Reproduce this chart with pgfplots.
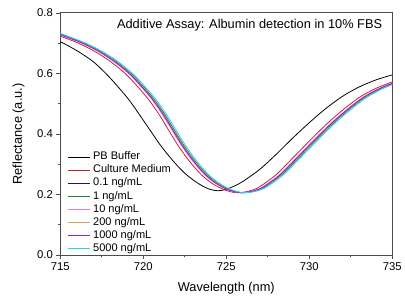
\documentclass[border=0pt]{standalone}
\usepackage{pgfplots}
\usepackage{pgfplotstable}
\pgfplotsset{compat=1.18}
\usepackage{fontspec}
\setmainfont{Liberation Sans}

\definecolor{cRed}{RGB}{200,30,40}
\definecolor{cNavy}{RGB}{20,20,140}
\definecolor{cGreen}{RGB}{30,130,40}
\definecolor{cPink}{RGB}{235,120,220}
\definecolor{cGold}{RGB}{205,165,80}
\definecolor{cPurple}{RGB}{130,30,230}
\definecolor{cCyan}{RGB}{30,215,240}

\pgfplotstableread{
x y
714.3 0.722
715 0.705
716 0.675
717 0.638
718 0.585
719 0.522
719.5 0.485
720 0.445
720.5 0.405
721 0.365
721.5 0.330
722 0.298
722.5 0.270
723 0.248
723.5 0.230
724 0.217
724.5 0.212
725 0.217
725.5 0.228
726 0.243
727 0.282
728 0.332
729 0.386
730 0.437
731 0.484
732 0.524
733 0.555
734 0.578
735 0.595
}\pb

\pgfplotstableread{
y xr xn xg xp xo xu xc
0.738 714.3 714.6 714.65 714.5 714.6 714.55 714.75
0.723 715 715.3 715.35 715.2 715.3 715.25 715.45
0.702 716 716.3 716.35 716.2 716.3 716.25 716.45
0.675 717 717.3 717.35 717.2 717.3 717.25 717.45
0.640 718 718.3 718.35 718.2 718.3 718.25 718.45
0.595 719 719.3 719.35 719.2 719.3 719.25 719.45
0.535 720 720.3 720.35 720.2 720.3 720.25 720.45
0.500 720.5 720.8 720.85 720.7 720.8 720.75 720.95
0.460 721 721.3 721.35 721.2 721.3 721.25 721.45
0.415 721.5 721.8 721.85 721.7 721.8 721.75 721.95
0.370 722 722.3 722.35 722.2 722.3 722.25 722.45
0.330 722.5 722.8 722.85 722.7 722.8 722.75 722.95
0.295 723 723.3 723.35 723.2 723.3 723.25 723.45
0.265 723.5 723.8 723.85 723.7 723.8 723.75 723.95
0.242 724 724.3 724.35 724.2 724.3 724.25 724.45
0.225 724.5 724.8 724.85 724.7 724.8 724.75 724.95
0.213 725 725.3 725.35 725.2 725.3 725.25 725.45
0.206 725.5 725.8 725.85 725.7 725.8 725.75 725.95
0.207 726 726.3 726.35 726.2 726.3 726.25 726.45
0.213 726.5 726.8 726.85 726.7 726.8 726.75 726.95
0.225 727 727.3 727.35 727.2 727.3 727.25 727.45
0.265 728 728.3 728.35 728.2 728.3 728.25 728.45
0.320 729 729.3 729.35 729.2 729.3 729.25 729.45
0.376 730 730.3 730.35 730.2 730.3 730.25 730.45
0.430 731 731.3 731.35 731.2 731.3 731.25 731.45
0.478 732 732.3 732.35 732.2 732.3 732.25 732.45
0.520 733 733.3 733.35 733.2 733.3 733.25 733.45
0.550 734 734.3 734.35 734.2 734.3 734.25 734.45
0.572 735 735.3 735.35 735.2 735.3 735.25 735.45
}\med

\begin{document}
\begin{tikzpicture}
\begin{axis}[
  scale only axis,
  width=336bp, height=245bp,
  xmin=715, xmax=735, ymin=0, ymax=0.8,
  xtick={715,720,725,730,735},
  minor xtick={717.5,722.5,727.5,732.5},
  ytick={0,0.2,0.4,0.6,0.8},
  minor ytick={0.1,0.3,0.5,0.7},
  tick align=outside,
  major tick length=4bp,
  minor tick length=2.5bp,
  xtick pos=bottom, ytick pos=left,
  axis line style={black!70, line width=0.8pt},
  every tick/.style={black!70, line width=0.6pt},
  /pgf/number format/assume math mode=true,
  yticklabel style={/pgf/number format/.cd, fixed, fixed zerofill, precision=1},
  xticklabel style={/pgf/number format/.cd, fixed, precision=0, set thousands separator={}},
  tick label style={font=\fontsize{11.5}{13}\selectfont},
  xlabel={Wavelength (nm)},
  ylabel={Reflectance (a.u.)},
  label style={font=\fontsize{13}{15}\selectfont},
  xlabel style={yshift=-5bp},
  ylabel style={yshift=6bp},
  legend cell align=left,
  legend style={draw=none, fill=none, inner sep=0pt,
    at={(0.021,0.424)}, anchor=north west,
    font=\fontsize{11.2}{12}\selectfont,
    nodes={inner sep=0pt, text height=7.5bp, text depth=2bp},
    row sep=3.7bp},
  legend image code/.code={\draw[#1, line width=1pt] (0bp,0bp) -- (22bp,0bp);},
  /tikz/every even column/.append style={column sep=0bp},
  /tikz/every odd column/.append style={column sep=3bp},
]
\addplot[black, line width=0.8pt, smooth] table[x=x, y=y] {\pb};
\addlegendentry{PB Buffer}
\addplot[cRed, line width=0.8pt, smooth] table[x=xr, y=y] {\med};
\addlegendentry{Culture Medium}
\addplot[cNavy, line width=0.8pt, smooth] table[x=xn, y=y] {\med};
\addlegendentry{0.1 ng/mL}
\addplot[cGreen, line width=0.8pt, smooth] table[x=xg, y=y] {\med};
\addlegendentry{1 ng/mL}
\addplot[cPink, line width=0.8pt, smooth] table[x=xp, y=y] {\med};
\addlegendentry{10 ng/mL}
\addplot[cGold, line width=0.8pt, smooth] table[x=xo, y=y] {\med};
\addlegendentry{200 ng/mL}
\addplot[cPurple, line width=0.8pt, smooth] table[x=xu, y=y] {\med};
\addlegendentry{1000 ng/mL}
\addplot[cCyan, line width=0.8pt, smooth] table[x=xc, y=y] {\med};
\addlegendentry{5000 ng/mL}
\node[anchor=north east, font=\fontsize{13}{15}\selectfont, inner sep=0pt]
  at (rel axis cs:0.97,0.975) {Additive Assay: Albumin detection in 10\% FBS};
\end{axis}
\path (current axis.south west) ++(-61bp,-42bp) rectangle ++(405bp,300bp);
\end{tikzpicture}
\end{document}
